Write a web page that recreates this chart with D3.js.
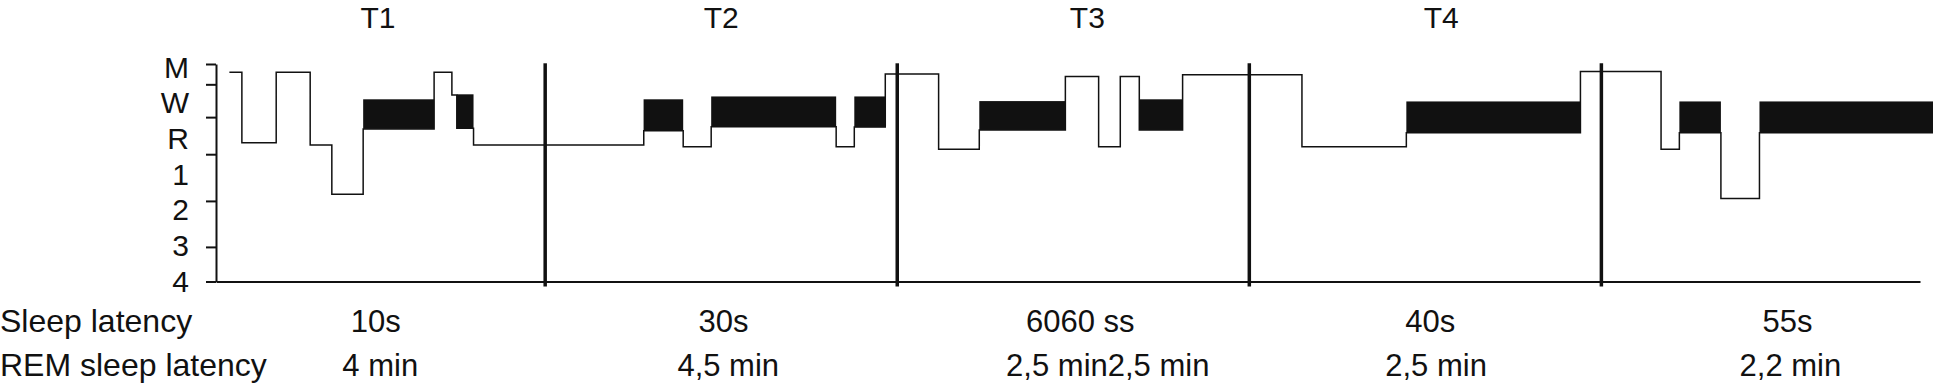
<!DOCTYPE html>
<meta charset="utf-8">
<head>
  <title>Hypnograms T1-T4</title>
  <style>
    body { margin: 0; background: #fff; }
    svg { display: block; background: #fff; font-family: "Liberation Sans", Arial, sans-serif; }
    .axis path, .axis line { stroke: #111; stroke-width: 2; }
    .axis text { font-size: 30px; fill: #111; font-family: "Liberation Sans", Arial, sans-serif; }
    .hypno { fill: none; stroke: #111; stroke-width: 1.5; }
    .rem { fill: #111; }
    .sep { stroke: #111; stroke-width: 3.5; }
    .title { font-size: 30px; fill: #111; text-anchor: middle; }
    .row { font-size: 31px; fill: #111; }
    .rowlab { font-size: 32px; fill: #111; }
  </style>
</head>
<body>
<script src="https://d3js.org/d3.v7.min.js"></script>
<script>

// stage axis (M = movement, W = wake, R = REM, 1-4 = NREM stages)
var stageLabels = ["M", "W", "R", "1", "2", "3", "4"];
var stageTicks = [-0.1, 0.47, 1.39, 2.43, 3.74, 5.03, 6.0];

// naps, time in minutes from the start of the strip
var napNames = ["T1", "T2", "T3", "T4"];
var napNameTimes = [10.5, 30.0, 50.8, 70.9];
var napBounds = [20, 40, 60, 80];

// hypnogram steps: time and stage level
var hypnoTimes  = [2.06, 2.77, 4.72, 6.65, 7.88, 9.66, 13.69, 14.70, 14.98, 15.93,
                   25.6, 27.84, 29.43, 36.53, 37.56, 39.32, 42.35, 44.66, 49.55, 51.44,
                   52.67, 53.75, 56.21, 62.99, 68.92, 78.81, 83.39, 84.43, 86.79, 88.98, 99.5];
var hypnoStages = [0.13, 2.11, 0.13, 2.17, 3.55, 1.72, 0.13, 0.77, 1.70, 2.17,
                   1.77, 2.22, 1.66, 2.22, 1.67, 0.18, 2.29, 1.75, 0.25, 2.22,
                   0.25, 1.75, 0.20, 2.22, 1.83, 0.11, 2.29, 1.83, 3.67, 1.83, 1.83];

// REM periods (black bars)
var remStart  = [9.66, 14.98, 25.59, 29.43, 37.56, 44.66, 53.75, 68.92, 84.43, 88.98];
var remEnd    = [13.69, 15.93, 27.84, 36.53, 39.32, 49.55, 56.21, 78.81, 86.79, 99.5];
var remTop    = [0.89, 0.75, 0.89, 0.81, 0.81, 0.94, 0.89, 0.95, 0.95, 0.95];
var remBottom = [1.72, 1.70, 1.77, 1.66, 1.67, 1.75, 1.75, 1.83, 1.83, 1.83];

// latencies under each nap
var sleepLatency = ["10s", "30s", "6060 ss", "40s", "55s"];
var sleepLatencyTimes = [10.38, 30.13, 50.4, 70.28, 90.57];
var remLatency = ["4 min", "4,5 min", "2,5 min2,5 min", "2,5 min", "2,2 min"];
var remLatencyTimes = [10.63, 30.4, 51.96, 70.61, 90.74];

var W = 1933, H = 386;
var left = 216, right = 1920;

var x = d3.scaleLinear().domain([1.3, 98.1]).range([left, right]);
var y = d3.scaleLinear().domain([-0.1, 6]).range([64, 281.5]);

var svg = d3.select("body").append("svg")
    .attr("width", W)
    .attr("height", H);

// x axis (plain baseline)
svg.append("g")
    .attr("class", "axis")
    .attr("transform", "translate(0," + y(6) + ")")
    .call(d3.axisBottom(x).tickValues([]).tickSizeOuter(0));

// y axis ticks
svg.append("g")
    .attr("class", "axis")
    .attr("transform", "translate(" + left + ",0)")
    .call(d3.axisLeft(y).tickValues(stageTicks).tickSize(10).tickSizeOuter(0).tickFormat(""));

// y axis stage labels
var lab = svg.append("g")
    .attr("class", "axis")
    .attr("transform", "translate(" + left + ",0)")
    .call(d3.axisLeft(y).tickValues(d3.range(stageLabels.length)).tickSize(0).tickPadding(27)
        .tickFormat(function(i) { return stageLabels[i]; }));
lab.select(".domain").remove();

// hypnogram step line
var pts = hypnoTimes.map(function(t, i) { return [t, hypnoStages[i]]; });
svg.append("path")
    .datum(pts)
    .attr("class", "hypno")
    .attr("d", d3.line()
        .x(function(d) { return x(d[0]); })
        .y(function(d) { return y(d[1]); })
        .curve(d3.curveStepAfter));

// REM bars
svg.selectAll("rect.rem")
    .data(remStart)
    .enter().append("rect")
    .attr("class", "rem")
    .attr("x", function(d) { return x(d); })
    .attr("width", function(d, i) { return x(remEnd[i]) - x(d); })
    .attr("y", function(d, i) { return y(remTop[i]); })
    .attr("height", function(d, i) { return y(remBottom[i]) - y(remTop[i]); });

// nap separators
svg.selectAll("line.sep")
    .data(napBounds)
    .enter().append("line")
    .attr("class", "sep")
    .attr("x1", function(d) { return x(d); })
    .attr("x2", function(d) { return x(d); })
    .attr("y1", y(-0.12))
    .attr("y2", y(6) + 5);

// nap titles
svg.selectAll("text.title")
    .data(napNames)
    .enter().append("text")
    .attr("class", "title")
    .attr("x", function(d, i) { return x(napNameTimes[i]); })
    .attr("y", 27.5)
    .text(function(d) { return d; });

// latency rows
svg.append("text").attr("class", "rowlab").attr("x", 0).attr("y", 331.5).text("Sleep latency");
svg.append("text").attr("class", "rowlab").attr("x", 0).attr("y", 376).text("REM sleep latency");

svg.selectAll("text.sl")
    .data(sleepLatency)
    .enter().append("text")
    .attr("class", "row sl")
    .attr("text-anchor", "middle")
    .attr("x", function(d, i) { return x(sleepLatencyTimes[i]); })
    .attr("y", 331.5)
    .text(function(d) { return d; });

svg.selectAll("text.rl")
    .data(remLatency)
    .enter().append("text")
    .attr("class", "row rl")
    .attr("text-anchor", "middle")
    .attr("x", function(d, i) { return x(remLatencyTimes[i]); })
    .attr("y", 376)
    .text(function(d) { return d; });

</script>
</body>
